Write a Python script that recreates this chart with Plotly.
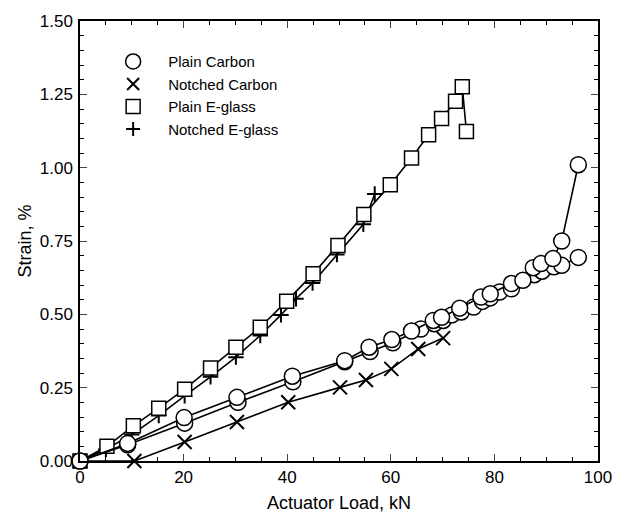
import plotly.graph_objects as go

# Plain Carbon, specimen A (upper branch)
pc_a_load = [0, 9.2, 20.1, 30.3, 41.0, 51.1, 55.8, 60.2, 64.0, 68.2, 69.8, 73.3, 77.4, 79.2, 83.3, 85.5, 87.5, 89.0, 91.3, 93.0, 96.2]
pc_a_strain = [0, 0.060, 0.148, 0.217, 0.289, 0.342, 0.388, 0.414, 0.443, 0.479, 0.490, 0.521, 0.559, 0.570, 0.605, 0.616, 0.659, 0.673, 0.690, 0.750, 1.010]
# Plain Carbon, specimen B (lower branch)
pc_b_load = [0, 9.2, 20.2, 30.5, 41.1, 51.1, 56.0, 60.4, 65.8, 68.4, 70.1, 71.8, 73.6, 76.0, 77.7, 79.2, 81.0, 83.3, 87.7, 89.2, 91.5, 93.0, 96.2]
pc_b_strain = [0, 0.055, 0.129, 0.200, 0.270, 0.338, 0.373, 0.403, 0.450, 0.468, 0.479, 0.498, 0.508, 0.525, 0.544, 0.556, 0.576, 0.587, 0.635, 0.647, 0.662, 0.667, 0.694]
# Notched Carbon
nc_load = [0, 10.5, 20.2, 30.3, 40.2, 50.2, 55.2, 60.1, 65.3, 70.1]
nc_strain = [0, 0, 0.065, 0.133, 0.200, 0.251, 0.276, 0.314, 0.382, 0.419]
# Plain E-glass
pe_load = [0, 5.2, 10.3, 15.2, 20.2, 25.2, 30.1, 34.8, 39.9, 45.0, 49.8, 54.8, 59.9, 64.0, 67.3, 69.8, 72.5, 73.8, 74.6]
pe_strain = [0, 0.050, 0.120, 0.180, 0.245, 0.317, 0.388, 0.456, 0.545, 0.638, 0.735, 0.840, 0.942, 1.033, 1.112, 1.168, 1.226, 1.276, 1.123]
# Notched E-glass
ne_load = [0, 5.0, 10.0, 15.2, 20.2, 25.2, 30.1, 34.8, 38.8, 41.7, 44.9, 49.6, 54.7, 56.9]
ne_strain = [0, 0.040, 0.090, 0.155, 0.222, 0.287, 0.354, 0.428, 0.498, 0.553, 0.607, 0.704, 0.807, 0.910]

legend_names = ["Plain Carbon", "Notched Carbon", "Plain E-glass", "Notched E-glass"]

x_ticks = [0, 20, 40, 60, 80, 100]
y_ticks = [0.00, 0.25, 0.50, 0.75, 1.00, 1.25, 1.50]
y_tick_text = ["0.00", "0.25", "0.50", "0.75", "1.00", "1.25", "1.50"]

FONT = "Liberation Sans, Arial, Helvetica, sans-serif"
line_style = dict(color="black", width=1.6)

fig = go.Figure()

def add_series(x, y, symbol, size, fill="white", lw=1.5):
    fig.add_trace(go.Scatter(
        x=x, y=y, mode="lines+markers", showlegend=False,
        line=line_style,
        marker=dict(symbol=symbol, size=size, color=fill,
                    line=dict(color="black", width=lw)),
        cliponaxis=False,
    ))

add_series(nc_load, nc_strain, "x-thin", 14, lw=2)
add_series(ne_load, ne_strain, "cross-thin", 11, lw=2)
add_series(pe_load, pe_strain, "square", 14)
add_series(pc_b_load, pc_b_strain, "circle", 16)
add_series(pc_a_load, pc_a_strain, "circle", 16)

# legend-only entries (markers only)
legend_symbols = ["circle", "x-thin", "square", "cross-thin"]
legend_sizes = [15, 12, 14, 10]
for name, sym, sz in zip(legend_names, legend_symbols, legend_sizes):
    fig.add_trace(go.Scatter(
        x=[None], y=[None], mode="markers", name=name,
        marker=dict(symbol=sym, size=sz, color="white",
                    line=dict(color="black", width=1.5 if sym in ("circle", "square") else 2)),
    ))

fig.update_layout(
    width=624, height=525,
    margin=dict(l=80, r=19, t=20, b=64),
    paper_bgcolor="white", plot_bgcolor="white",
    font=dict(family=FONT, size=17, color="black"),
    showlegend=True,
    legend=dict(x=0.035, y=0.945, xanchor="left", yanchor="top",
                bgcolor="rgba(0,0,0,0)", font=dict(size=15, family=FONT),
                itemwidth=60, tracegroupgap=0),
)

fig.update_xaxes(
    range=[0, 100], tickvals=x_ticks, ticks="inside", ticklen=7, tickwidth=1.2,
    showline=True, linecolor="black", linewidth=1.5, mirror="allticks",
    showgrid=False, zeroline=False,
    minor=dict(dtick=5, ticks="inside", ticklen=4, tickwidth=1.2, tickcolor="black", showgrid=False),
    title=dict(text="Actuator Load, kN", font=dict(size=18), standoff=10),
    tickfont=dict(size=17),
)
fig.update_yaxes(
    range=[0, 1.5], tickvals=y_ticks, ticktext=y_tick_text, ticks="inside", ticklen=7, tickwidth=1.2,
    showline=True, linecolor="black", linewidth=1.5, mirror="allticks",
    showgrid=False, zeroline=False,
    minor=dict(dtick=0.05, ticks="inside", ticklen=4, tickwidth=1.2, tickcolor="black", showgrid=False),
    title=dict(text="Strain, %", font=dict(size=18), standoff=3),
    tickfont=dict(size=17), ticklabelstandoff=2,
)

fig.write_html("out.html")
